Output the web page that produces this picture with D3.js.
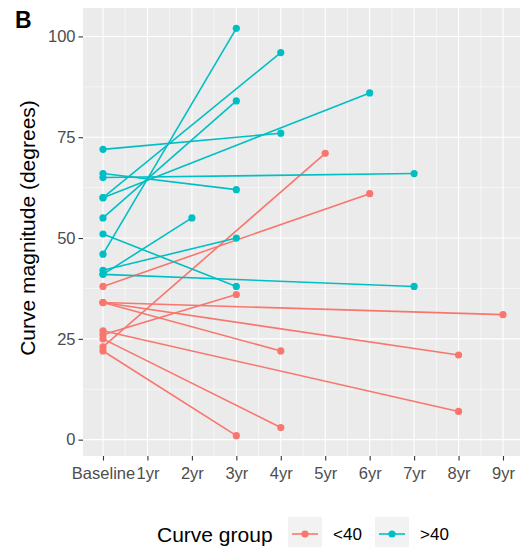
<!DOCTYPE html>
<html><head><meta charset="utf-8">
<script src="https://cdn.jsdelivr.net/npm/d3@7"></script>
<style>body{margin:0;background:#fff}svg{display:block;font-family:"Liberation Sans",Arial,sans-serif}</style>
</head><body><svg id="c" width="520" height="547"></svg>
<script>
const timeLabels = ["Baseline","1yr","2yr","3yr","4yr","5yr","6yr","7yr","8yr","9yr"];
const lowBaseline = [38,34,34,34,27,26,25,23,22];
const lowFollowTime = ["6yr","9yr","8yr","4yr","8yr","3yr","4yr","5yr","3yr"];
const lowFollowValue = [61,31,21,22,7,36,3,71,1];
const highBaseline = [72,66,65,60,60,55,51,46,42,41,41];
const highFollowTime = ["4yr","3yr","7yr","4yr","6yr","3yr","3yr","3yr","3yr","2yr","7yr"];
const highFollowValue = [76,62,66,96,86,84,38,102,50,55,38];
const yTicks = [0,25,50,75,100];
const groupLabels = ["<40", ">40"];
const groupColors = ["#F8766D", "#00BFC4"];

const svg = d3.select("#c");
const panel = {l:83, r:523, t:8, b:456};
const x = d3.scaleLinear().domain([-0.45, 9.45]).range([panel.l, panel.r]);
const y = d3.scaleLinear().domain([-4.05, 107.05]).range([panel.b, panel.t]);

svg.append("rect").attr("x",panel.l).attr("y",panel.t).attr("width",panel.r-panel.l).attr("height",panel.b-panel.t).attr("fill","#EBEBEB");
const g = svg.append("g");
const xMinor = d3.range(0, timeLabels.length-1).map(i=>i+0.5);
const yMinor = yTicks.slice(0,-1).map(v=>v+12.5);
g.selectAll(".xm").data(xMinor).join("line").attr("x1",d=>x(d)).attr("x2",d=>x(d)).attr("y1",panel.t).attr("y2",panel.b).attr("stroke","#fff").attr("stroke-width",0.55);
g.selectAll(".ym").data(yMinor).join("line").attr("y1",d=>y(d)).attr("y2",d=>y(d)).attr("x1",panel.l).attr("x2",panel.r).attr("stroke","#fff").attr("stroke-width",0.55);
g.selectAll(".xM").data(timeLabels).join("line").attr("x1",(d,i)=>x(i)).attr("x2",(d,i)=>x(i)).attr("y1",panel.t).attr("y2",panel.b).attr("stroke","#fff").attr("stroke-width",1.1);
g.selectAll(".yM").data(yTicks).join("line").attr("y1",d=>y(d)).attr("y2",d=>y(d)).attr("x1",panel.l).attr("x2",panel.r).attr("stroke","#fff").attr("stroke-width",1.1);

function build(base, ft, fv, gi){
  return base.map((b,i)=>({g:gi, pts:[[0,b],[timeLabels.indexOf(ft[i]), fv[i]]]}));
}
const series = build(lowBaseline, lowFollowTime, lowFollowValue, 0).concat(build(highBaseline, highFollowTime, highFollowValue, 1));
const line = d3.line().x(d=>x(d[0])).y(d=>y(d[1]));
svg.append("g").selectAll("path").data(series).join("path").attr("d",d=>line(d.pts)).attr("fill","none").attr("stroke",d=>groupColors[d.g]).attr("stroke-width",1.6);
const pts = series.flatMap(s=>s.pts.map(p=>({g:s.g,p})));
svg.append("g").selectAll("circle").data(pts).join("circle").attr("cx",d=>x(d.p[0])).attr("cy",d=>y(d.p[1])).attr("r",3.6).attr("fill",d=>groupColors[d.g]);

const xAxis = d3.axisBottom(x).tickValues(d3.range(timeLabels.length)).tickFormat(i=>timeLabels[i]).tickSize(4.5).tickPadding(3);
const xa = svg.append("g").attr("transform",`translate(0,${panel.b})`).call(xAxis);
const yAxis = d3.axisLeft(y).tickValues(yTicks).tickSize(4.5).tickPadding(3);
const ya = svg.append("g").attr("transform",`translate(${panel.l},0)`).call(yAxis);
[xa,ya].forEach(a=>{a.select(".domain").remove();a.selectAll(".tick line").attr("stroke","#333").attr("stroke-width",1.1);a.selectAll("text").attr("fill","#4D4D4D").style("font-size","16.5px").style("font-family","'Liberation Sans',Arial,sans-serif");});
xa.selectAll("text").attr("dy",null).attr("y",23);

svg.append("text").attr("transform","translate(35,228) rotate(-90)").attr("text-anchor","middle").style("font-size","21px").attr("fill","#000").text("Curve magnitude (degrees)");
svg.append("text").attr("x",15).attr("y",28).style("font-size","23px").style("font-weight","bold").attr("fill","#000").text("B");

const lg = svg.append("g");
lg.append("text").attr("x",157).attr("y",542).style("font-size","21px").attr("fill","#000").text("Curve group");
const keyX = [288, 375];
groupLabels.forEach((lab,i)=>{
  const kx = keyX[i];
  lg.append("rect").attr("x",kx).attr("y",517).attr("width",34).attr("height",34).attr("fill","#F2F2F2");
  lg.append("line").attr("x1",kx+4).attr("x2",kx+30).attr("y1",534).attr("y2",534).attr("stroke",groupColors[i]).attr("stroke-width",1.6);
  lg.append("circle").attr("cx",kx+17).attr("cy",534).attr("r",3.6).attr("fill",groupColors[i]);
  lg.append("text").attr("x",kx+45).attr("y",540).style("font-size","17px").attr("fill","#000").text(lab);
});
</script></body></html>
